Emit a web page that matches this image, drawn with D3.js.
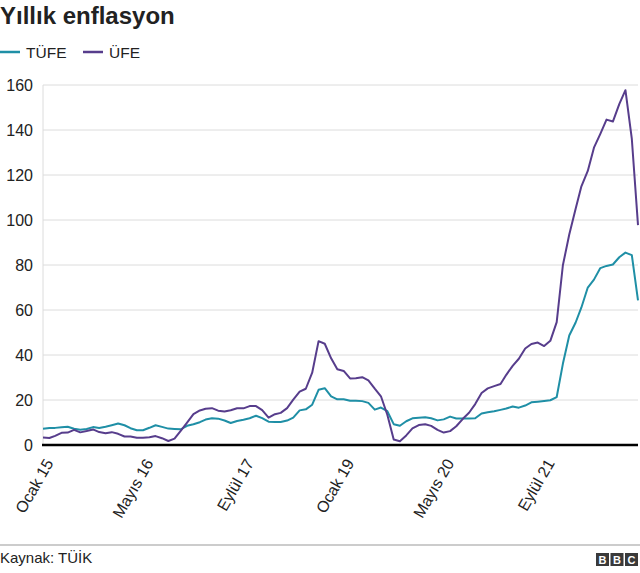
<!DOCTYPE html>
<html>
<head>
<meta charset="utf-8">
<script src="https://d3js.org/d3.v7.min.js"></script>
<style>
body { margin: 0; background: #fff; }
svg { font-family: "Liberation Sans", Arial, Helvetica, sans-serif; }
.grid line { stroke: #dcdcdc; stroke-width: 1px; }
.ytick text { font-size: 16px; fill: #222; }
.xtick text { font-size: 16px; fill: #222; }
</style>
</head>
<body>
<svg width="640" height="573"></svg>
<script>

// monthly, Ocak 2015 .. Aralık 2022
var startMonth = new Date(2015, 0, 1);

var tufe = [
	7.24, 7.55, 7.61, 7.91, 8.09, 7.20, 6.81, 7.14, 7.95, 7.58, 8.10, 8.81,
	9.58, 8.78, 7.46, 6.57, 6.58, 7.64, 8.79, 8.05, 7.28, 7.16, 7.00, 8.53,
	9.22, 10.13, 11.29, 11.87, 11.72, 10.90, 9.79, 10.68, 11.20, 11.90, 12.98, 11.92,
	10.35, 10.26, 10.23, 10.85, 12.15, 15.39, 15.85, 17.90, 24.52, 25.24, 21.62, 20.30,
	20.35, 19.67, 19.71, 19.50, 18.71, 15.72, 16.65, 15.01, 9.26, 8.55, 10.56, 11.84,
	12.15, 12.37, 11.86, 10.94, 11.39, 12.62, 11.76, 11.77, 11.75, 11.89, 14.03, 14.60,
	14.97, 15.61, 16.19, 17.14, 16.59, 17.53, 18.95, 19.25, 19.58, 19.89, 21.31, 36.08,
	48.69, 54.44, 61.14, 69.97, 73.50, 78.62, 79.60, 80.21, 83.45, 85.51, 84.39, 64.27
];

var ufe = [
	3.28, 3.10, 4.05, 5.42, 5.52, 6.73, 5.62, 6.21, 6.92, 5.74, 5.25, 5.71,
	4.97, 3.78, 3.80, 3.22, 3.25, 3.41, 3.96, 3.03, 1.78, 2.82, 6.41, 9.94,
	13.69, 15.36, 16.09, 16.37, 15.26, 14.87, 15.45, 16.34, 16.28, 17.28, 17.30, 15.47,
	12.14, 13.71, 14.28, 16.37, 20.16, 23.71, 25.00, 32.13, 46.15, 45.01, 38.54, 33.64,
	32.93, 29.59, 29.64, 30.12, 28.71, 25.04, 21.66, 13.45, 2.45, 1.70, 4.26, 7.36,
	8.84, 9.26, 8.50, 6.71, 5.53, 6.17, 8.33, 11.53, 14.33, 18.20, 23.11, 25.15,
	26.16, 27.09, 31.20, 35.17, 38.33, 42.89, 44.92, 45.52, 43.96, 46.31, 54.62, 79.89,
	93.53, 105.01, 114.97, 121.82, 132.16, 138.31, 144.61, 143.75, 151.50, 157.69, 136.02, 97.72
];

var seriesNames = ["TÜFE", "ÜFE"];
var seriesColors = ["#1f8fa6", "#573d8c"];

var xTickLabels = ["Ocak 15", "Mayıs 16", "Eylül 17", "Ocak 19", "Mayıs 20", "Eylül 21"];
var xTickDates = [new Date(2015, 0, 1), new Date(2016, 4, 1), new Date(2017, 8, 1),
	new Date(2019, 0, 1), new Date(2020, 4, 1), new Date(2021, 8, 1)];
var yTicks = [0, 20, 40, 60, 80, 100, 120, 140, 160];

var svg = d3.select("svg"),
	width = +svg.attr("width"),
	height = +svg.attr("height");

var plotLeft = 43, plotRight = 638, plotTop = 85, plotBottom = 445;

var dates = tufe.map(function(d, i) { return d3.timeMonth.offset(startMonth, i); });

var x = d3.scaleTime()
	.domain([dates[0], dates[dates.length - 1]])
	.range([plotLeft, plotRight]);

var y = d3.scaleLinear()
	.domain([0, 160])
	.range([plotBottom, plotTop]);

// title
svg.append("text")
	.attr("x", 0)
	.attr("y", 24)
	.attr("font-size", "24px")
	.attr("font-weight", "bold")
	.attr("fill", "#222")
	.text("Yıllık enflasyon");

// legend
var legend = svg.append("g");
var legendX = [0, 83];
seriesNames.forEach(function(name, i) {
	legend.append("line")
		.attr("x1", legendX[i]).attr("x2", legendX[i] + 20)
		.attr("y1", 52).attr("y2", 52)
		.attr("stroke", seriesColors[i])
		.attr("stroke-width", 2.5);
	legend.append("text")
		.attr("x", legendX[i] + 26)
		.attr("y", 58)
		.attr("font-size", "15.5px")
		.attr("fill", "#222")
		.text(name);
});

// grid
var grid = svg.append("g").attr("class", "grid");
grid.selectAll("line.h")
	.data(yTicks.filter(function(d) { return d > 0; }))
	.enter().append("line")
	.attr("class", "h")
	.attr("x1", plotLeft).attr("x2", plotRight)
	.attr("y1", function(d) { return y(d); })
	.attr("y2", function(d) { return y(d); });
grid.append("line")
	.attr("x1", plotLeft).attr("x2", plotLeft)
	.attr("y1", plotTop).attr("y2", plotBottom);

// y labels
svg.append("g").attr("class", "ytick")
	.selectAll("text")
	.data(yTicks)
	.enter().append("text")
	.attr("x", 33)
	.attr("y", function(d) { return y(d); })
	.attr("dy", "0.35em")
	.attr("text-anchor", "end")
	.text(function(d) { return d; });

// lines
var line = d3.line()
	.x(function(d, i) { return x(dates[i]); })
	.y(function(d) { return y(d); });

[tufe, ufe].forEach(function(s, i) {
	svg.append("path")
		.datum(s)
		.attr("fill", "none")
		.attr("stroke", seriesColors[i])
		.attr("stroke-width", 2)
		.attr("stroke-linejoin", "round")
		.attr("d", line);
});

// x axis baseline
svg.append("line")
	.attr("x1", plotLeft - 1).attr("x2", plotRight)
	.attr("y1", plotBottom).attr("y2", plotBottom)
	.attr("stroke", "#000")
	.attr("stroke-width", 2.5);

// x labels
svg.append("g").attr("class", "xtick")
	.selectAll("text")
	.data(xTickDates)
	.enter().append("text")
	.attr("transform", function(d) { return "translate(" + (x(d) + 11) + "," + 463 + ") rotate(-60)"; })
	.attr("text-anchor", "end")
	.text(function(d, i) { return xTickLabels[i]; });

// footer
svg.append("line")
	.attr("x1", 0).attr("x2", width)
	.attr("y1", 545).attr("y2", 545)
	.attr("stroke", "#999")
	.attr("stroke-width", 1);

svg.append("text")
	.attr("x", 0)
	.attr("y", 563)
	.attr("font-size", "15px")
	.attr("fill", "#222")
	.text("Kaynak: TÜİK");

var bbc = svg.append("g").attr("transform", "translate(596,553)");
["B", "B", "C"].forEach(function(c, i) {
	bbc.append("rect")
		.attr("x", i * 14.5).attr("y", 0)
		.attr("width", 13).attr("height", 13)
		.attr("fill", "#3a3a3a");
	bbc.append("text")
		.attr("x", i * 14.5 + 6.5).attr("y", 11)
		.attr("text-anchor", "middle")
		.attr("font-size", "11px")
		.attr("font-weight", "bold")
		.attr("fill", "#fff")
		.text(c);
});

</script>
</body>
</html>
